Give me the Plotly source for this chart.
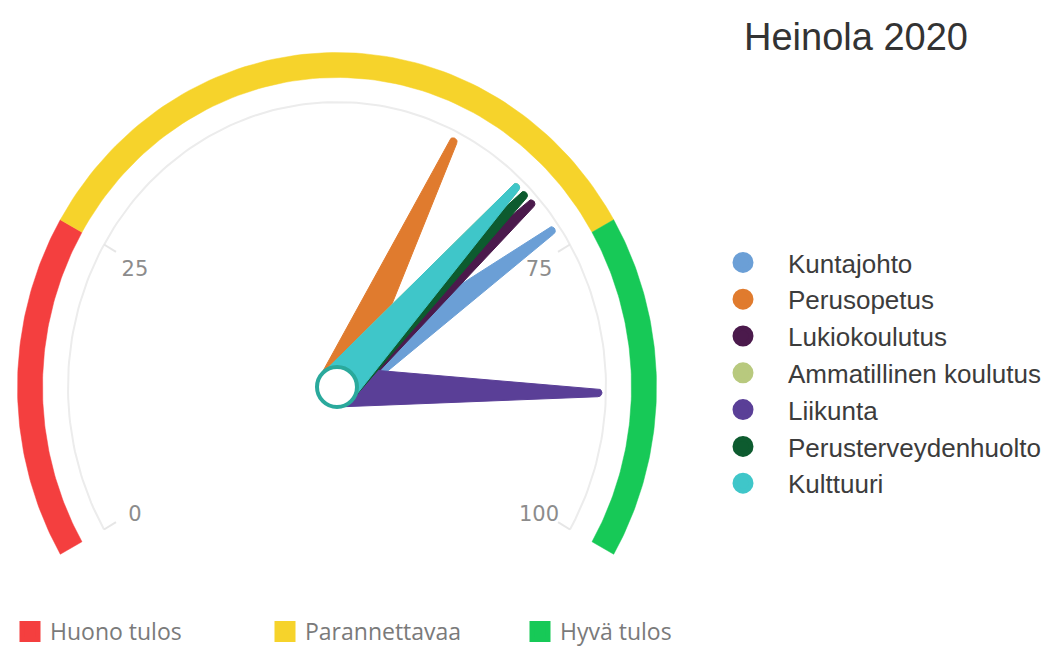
import numpy as np
import plotly.graph_objects as go

# ---------------- data ----------------
TITLE = "Heinola 2020"
series_names = ["Kuntajohto", "Perusopetus", "Lukiokoulutus", "Ammatillinen koulutus",
                "Liikunta", "Perusterveydenhuolto", "Kulttuuri"]
series_values = [73, 61, 70, 68, 88, 69, 68]
series_colors = ["#6b9fd6", "#e07b2e", "#4b1a4c", "#b8c97e", "#5a3f97", "#0d5b2f", "#3fc6c9"]

band_names = ["Huono tulos", "Parannettavaa", "Hyvä tulos"]
band_from = [0, 25, 75]
band_to = [25, 75, 100]
band_colors = ["#f43f3f", "#f6d32b", "#17c957"]

tick_values = [0, 25, 75, 100]
tick_labels = ["0", "25", "75", "100"]

# ---------------- gauge geometry (layout) ----------------
SCALE_MIN, SCALE_MAX = 0, 100
START_DEG, END_DEG = 210, -30
W, H = 1064, 649
CX, CY = 337, 387
RX, RY = 307, 322
BAND_HALF = 12.5
GRAY_RX, GRAY_RY = 269, 285
LABEL_FRAC = 0.76
LABEL_DY = -6
NEEDLE_FRAC = 0.85
BASE_HALF = 20
TOP_HALF = 4
PIVOT_COLOR = "#2aa99c"


def angle(v):
    v = np.asarray(v, dtype=float)
    return np.radians(START_DEG + (END_DEG - START_DEG) * (v - SCALE_MIN) / (SCALE_MAX - SCALE_MIN))


fig = go.Figure()

# colour bands
for name, a, b, col in zip(band_names, band_from, band_to, band_colors):
    th = angle(np.linspace(a, b, 90))
    xo = (RX + BAND_HALF) * np.cos(th)
    yo = (RY + BAND_HALF) * np.sin(th)
    xi = (RX - BAND_HALF) * np.cos(th[::-1])
    yi = (RY - BAND_HALF) * np.sin(th[::-1])
    fig.add_trace(go.Scatter(
        x=np.concatenate([xo, xi, xo[:1]]), y=np.concatenate([yo, yi, yo[:1]]),
        mode="lines", fill="toself", fillcolor=col, line=dict(color=col, width=0.5),
        hoverinfo="skip", showlegend=False))

# thin grey scale arc
th = angle(np.linspace(SCALE_MIN, SCALE_MAX, 200))
fig.add_trace(go.Scatter(x=GRAY_RX * np.cos(th), y=GRAY_RY * np.sin(th), mode="lines",
                         line=dict(color="#ececec", width=2), hoverinfo="skip", showlegend=False))

# tick marks
tx, ty = [], []
for v in tick_values:
    t = angle(v)
    p = np.array([GRAY_RX * np.cos(t), GRAY_RY * np.sin(t)])
    q = p * (1 - 14 / np.linalg.norm(p))
    tx += [p[0], q[0], None]
    ty += [p[1], q[1], None]
fig.add_trace(go.Scatter(x=tx, y=ty, mode="lines", line=dict(color="#e6e6e6", width=2),
                         hoverinfo="skip", showlegend=False))

# tick labels
tl = angle(tick_values)
fig.add_trace(go.Scatter(x=LABEL_FRAC * RX * np.cos(tl), y=LABEL_FRAC * RY * np.sin(tl) + LABEL_DY,
                         mode="text", text=tick_labels,
                         textfont=dict(family="DejaVu Sans", size=21, color="#8c8c8c"),
                         hoverinfo="skip", showlegend=False))

# needles
for name, v, col in zip(series_names, series_values, series_colors):
    t = float(angle(v))
    tip = np.array([NEEDLE_FRAC * RX * np.cos(t), NEEDLE_FRAC * RY * np.sin(t)])
    u = tip / np.linalg.norm(tip)
    n = np.array([-u[1], u[0]])
    pts = [BASE_HALF * n]
    for phi in np.linspace(np.pi / 2, -np.pi / 2, 12):
        pts.append(tip + TOP_HALF * (np.cos(phi) * u + np.sin(phi) * n))
    pts.append(-BASE_HALF * n)
    pts.append(BASE_HALF * n)
    pts = np.array(pts)
    fig.add_trace(go.Scatter(x=pts[:, 0], y=pts[:, 1], mode="lines", fill="toself",
                             fillcolor=col, line=dict(color=col, width=1),
                             hoverinfo="skip", showlegend=False, name=name))

# pivot
fig.add_trace(go.Scatter(x=[0], y=[0], mode="markers",
                         marker=dict(size=40, color="white", line=dict(color=PIVOT_COLOR, width=4)),
                         hoverinfo="skip", showlegend=False))

# legend entries
for name, col in zip(series_names, series_colors):
    fig.add_trace(go.Scatter(x=[None], y=[None], mode="markers", name=name,
                             marker=dict(symbol="circle", size=16, color=col,
                                         line=dict(color=col, width=5)),
                             legend="legend"))
for name, col in zip(band_names, band_colors):
    fig.add_trace(go.Scatter(x=[None], y=[None], mode="markers", name=name,
                             marker=dict(symbol="square", size=16, color=col,
                                         line=dict(color=col, width=5)),
                             legend="legend2"))

fig.update_layout(
    width=W, height=H,
    margin=dict(l=0, r=0, t=0, b=0, autoexpand=False),
    paper_bgcolor="white", plot_bgcolor="white",
    title=dict(text=TITLE, x=856 / W, xanchor="center", y=1 - 37 / H, yanchor="middle",
               font=dict(family="Liberation Sans", size=38, color="#333333")),
    xaxis=dict(range=[-CX, W - CX], visible=False, fixedrange=True),
    yaxis=dict(range=[-(H - CY), CY], visible=False, fixedrange=True),
    legend=dict(x=698 / W, xanchor="left", y=1 - 239 / H, yanchor="top",
                font=dict(family="Liberation Sans", size=26, color="#3c3c3c"),
                itemwidth=80, bgcolor="rgba(0,0,0,0)", tracegroupgap=0),
    legend2=dict(orientation="h", x=10 / W, xanchor="left", y=1 - 610 / H, yanchor="top",
                 font=dict(family="Open Sans", size=23, color="#7a7a7a"),
                 entrywidth=210, entrywidthmode="pixels", bgcolor="rgba(0,0,0,0)"),
    showlegend=True,
)

fig.write_html("out.html", include_plotlyjs=True, config={"displayModeBar": False},
               post_script="document.body.style.margin='0';document.body.style.overflow='hidden';")
